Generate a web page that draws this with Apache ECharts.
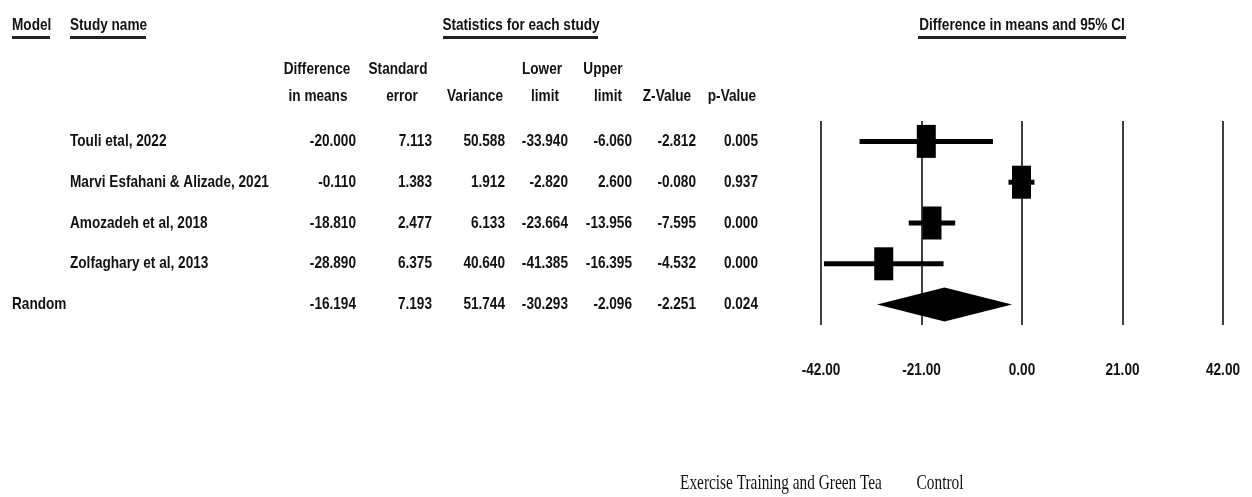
<!DOCTYPE html>
<html>
<head>
<meta charset="utf-8">
<title>Forest plot</title>
<script src="https://cdn.jsdelivr.net/npm/echarts@6/dist/echarts.min.js"></script>
<style>
  html, body { margin: 0; padding: 0; background: #fff; }
  #chart { width: 1252px; height: 497px; }
</style>
</head>
<body>
<div id="chart"></div>
<script>
// rows of the table
const studies = ['Touli etal, 2022', 'Marvi Esfahani & Alizade, 2021', 'Amozadeh et al, 2018', 'Zolfaghary et al, 2013']
const modelName = 'Random'

// statistics for each study
const diffMeans = [-20.000, -0.110, -18.810, -28.890]
const stdError = [7.113, 1.383, 2.477, 6.375]
const variance = [50.588, 1.912, 6.133, 40.640]
const lowerLimit = [-33.940, -2.820, -23.664, -41.385]
const upperLimit = [-6.060, 2.600, -13.956, -16.395]
const zValue = [-2.812, -0.080, -7.595, -4.532]
const pValue = [0.005, 0.937, 0.000, 0.000]

// pooled (random effects) row: diff, se, var, lower, upper, z, p
const pooled = [-16.194, 7.193, 51.744, -30.293, -2.096, -2.251, 0.024]

const xTicks = [-42, -21, 0, 21, 42]
const leftLabel = 'Exercise Training and Green Tea'
const rightLabel = 'Control'

const rowNames = studies.concat([modelName])
const tableRows = studies.map((s, i) => [diffMeans[i], stdError[i], variance[i], lowerLimit[i], upperLimit[i], zValue[i], pValue[i]])
tableRows.push(pooled)

const FONT = 'bold 17px "Liberation Sans", Arial, sans-serif'
const NARROW = 0.8
const colRight = [356, 432, 505, 568, 632, 696, 758]
const decimals = [3, 3, 3, 3, 3, 3, 3]

function txt(text, x, y, align, font, scaleX) {
  return {
    type: 'text',
    x: x,
    y: y,
    scaleX: scaleX || NARROW,
    silent: true,
    style: {
      text: text,
      font: font || FONT,
      fill: '#111',
      align: align || 'left',
      verticalAlign: 'middle'
    }
  }
}

function underline(x1, x2, y) {
  return { type: 'rect', silent: true, shape: { x: x1, y: y, width: x2 - x1, height: 3 }, style: { fill: '#222' } }
}

const chart = echarts.init(document.getElementById('chart'))

const option = {
  animation: false,
  backgroundColor: '#fff',
  grid: { left: 821, width: 402, top: 121, height: 204, containLabel: false },
  xAxis: {
    type: 'value',
    min: -42,
    max: 42,
    interval: 21,
    axisLine: { show: false },
    axisTick: { show: false },
    splitLine: { show: true, lineStyle: { color: '#000', width: 1.5 } },
    axisLabel: { show: false }
  },
  yAxis: {
    type: 'category',
    inverse: true,
    data: rowNames,
    show: false
  },
  series: [
    {
      // numeric table, rows follow the y axis
      type: 'custom',
      coordinateSystem: 'cartesian2d',
      data: rowNames.map((n, i) => [0, i]),
      silent: true,
      renderItem: function (params, api) {
        const i = params.dataIndex
        const y = api.coord([0, i])[1]
        const kids = []
        if (i < studies.length) {
          kids.push(txt(rowNames[i], 70, y, 'left'))
        } else {
          kids.push(txt(rowNames[i], 12, y, 'left'))
        }
        tableRows[i].forEach((v, c) => {
          kids.push(txt(v.toFixed(decimals[c]), colRight[c], y, 'right'))
        })
        return { type: 'group', children: kids }
      }
    },
    {
      // tick labels under the plot, placed on the x scale
      type: 'custom',
      coordinateSystem: 'cartesian2d',
      data: xTicks.map(v => [v, 0]),
      silent: true,
      renderItem: function (params, api) {
        const x = api.coord([api.value(0), 0])[0]
        return txt(api.value(0).toFixed(2), x, 370, 'center')
      }
    },
    {
      // study effects with 95% CI
      type: 'custom',
      coordinateSystem: 'cartesian2d',
      data: studies.map((s, i) => [diffMeans[i], i, lowerLimit[i], upperLimit[i]]),
      silent: true,
      renderItem: function (params, api) {
        const p = api.coord([api.value(0), api.value(1)])
        const lo = api.coord([api.value(2), api.value(1)])
        const hi = api.coord([api.value(3), api.value(1)])
        return {
          type: 'group',
          children: [
            { type: 'line', shape: { x1: lo[0], y1: lo[1], x2: hi[0], y2: hi[1] }, style: { stroke: '#000', lineWidth: 5 } },
            { type: 'rect', shape: { x: p[0] - 9.5, y: p[1] - 16.5, width: 19, height: 33 }, style: { fill: '#000' } }
          ]
        }
      }
    },
    {
      // pooled diamond
      type: 'custom',
      coordinateSystem: 'cartesian2d',
      data: [[pooled[0], studies.length, pooled[3], pooled[4]]],
      silent: true,
      renderItem: function (params, api) {
        const p = api.coord([api.value(0), api.value(1)])
        const lo = api.coord([api.value(2), api.value(1)])
        const hi = api.coord([api.value(3), api.value(1)])
        return {
          type: 'polygon',
          shape: { points: [[lo[0], p[1]], [p[0], p[1] - 17], [hi[0], p[1]], [p[0], p[1] + 17]] },
          style: { fill: '#000' }
        }
      }
    }
  ],
  graphic: [
    txt('Model', 12, 25, 'left'),
    underline(12, 50, 36),
    txt('Study name', 70, 25, 'left'),
    underline(70, 146, 36),
    txt('Statistics for each study', 521, 25, 'center'),
    underline(443, 598, 36),
    txt('Difference in means and 95% CI', 1022, 25, 'center'),
    underline(918, 1126, 36),

    txt('Difference', 317, 69, 'center'),
    txt('in means', 318, 96, 'center'),
    txt('Standard', 398, 69, 'center'),
    txt('error', 402, 96, 'center'),
    txt('Variance', 475, 96, 'center'),
    txt('Lower', 542, 69, 'center'),
    txt('limit', 545, 96, 'center'),
    txt('Upper', 603, 69, 'center'),
    txt('limit', 608, 96, 'center'),
    txt('Z-Value', 667, 96, 'center'),
    txt('p-Value', 732, 96, 'center'),

    txt(leftLabel, 781, 483, 'center', '21px "Liberation Serif", "Times New Roman", serif', 0.73),
    txt(rightLabel, 940, 483, 'center', '21px "Liberation Serif", "Times New Roman", serif', 0.73)
  ]
}

chart.setOption(option)
</script>
</body>
</html>
